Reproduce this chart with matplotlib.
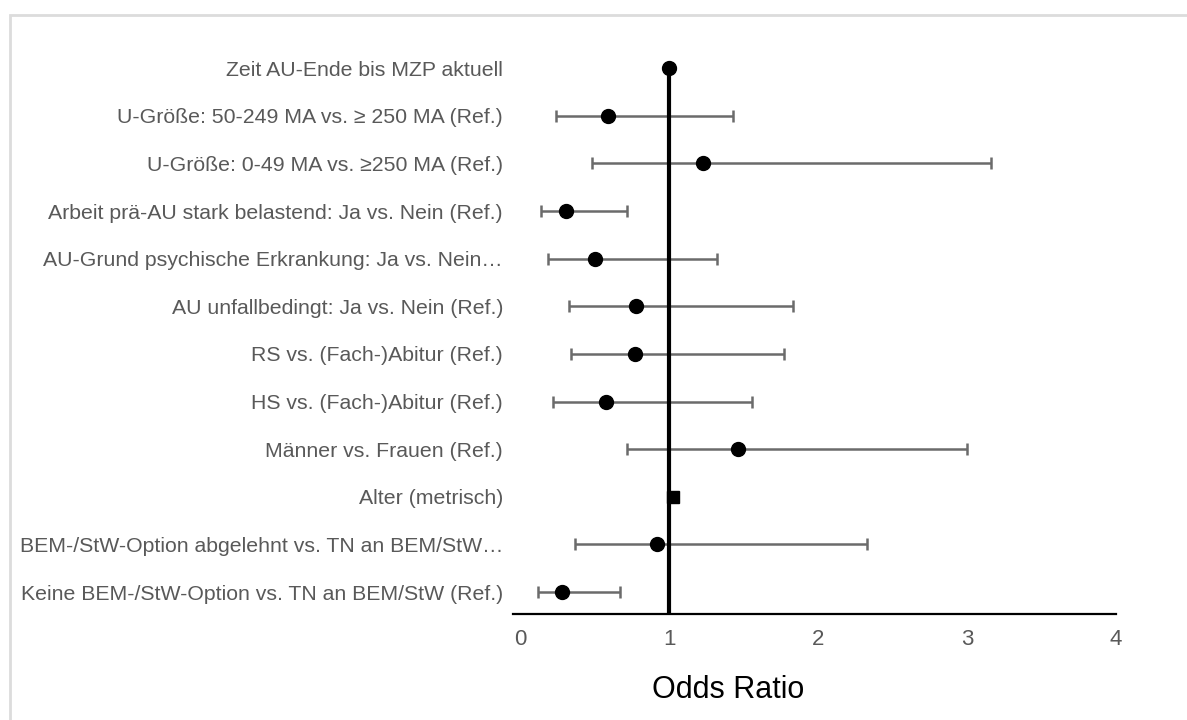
import matplotlib.pyplot as plt
import matplotlib.patches as mpatches
import numpy as np

plt.rcParams['font.family'] = ['Liberation Sans', 'DejaVu Sans']

labels = ['Zeit AU-Ende bis MZP aktuell',
          'U-Größe: 50-249 MA vs. ≥ 250 MA (Ref.)',
          'U-Größe: 0-49 MA vs. ≥250 MA (Ref.)',
          'Arbeit prä-AU stark belastend: Ja vs. Nein (Ref.)',
          'AU-Grund psychische Erkrankung: Ja vs. Nein…',
          'AU unfallbedingt: Ja vs. Nein (Ref.)',
          'RS vs. (Fach-)Abitur (Ref.)',
          'HS vs. (Fach-)Abitur (Ref.)',
          'Männer vs. Frauen (Ref.)',
          'Alter (metrisch)',
          'BEM-/StW-Option abgelehnt vs. TN an BEM/StW…',
          'Keine BEM-/StW-Option vs. TN an BEM/StW (Ref.)']
odds = [1.00, 0.59, 1.225, 0.31, 0.50, 0.78, 0.77, 0.58, 1.46, 1.03, 0.92, 0.28]
ci_low = [1.00, 0.24, 0.48, 0.14, 0.19, 0.33, 0.34, 0.22, 0.72, 1.03, 0.37, 0.12]
ci_high = [1.00, 1.43, 3.16, 0.72, 1.32, 1.83, 1.77, 1.56, 3.00, 1.03, 2.33, 0.67]
square_rows = [9]   # "Alter (metrisch)" drawn as a square

odds = np.array(odds)
lo = odds - np.array(ci_low)
hi = np.array(ci_high) - odds
ypos = np.arange(len(labels))

fig = plt.figure(figsize=(11.87, 7.2), dpi=100)
# light grey frame
fig.patches.append(mpatches.Rectangle((10 / 1187, -0.1), 1.2, 1 - 15 / 720 + 0.1,
                                      transform=fig.transFigure, fill=False,
                                      edgecolor='#dcdcdc', linewidth=2))

ax = fig.add_axes([513 / 1187, 1 - 614 / 720, (1116 - 513) / 1187, (614 - 40) / 720])

has_ci = np.array(ci_high) > np.array(ci_low)
ax.errorbar(odds[has_ci], ypos[has_ci], xerr=[lo[has_ci], hi[has_ci]], fmt='none',
            ecolor='#6b6b6b', elinewidth=1.8, capsize=4.3, capthick=1.8, zorder=2)

ax.vlines(1, 0, 11.46, color='black', linewidth=3, zorder=3)

circ = [i for i in ypos if i not in square_rows]
ax.plot(odds[circ], ypos[circ], 'o', color='black', markersize=10, zorder=4)
ax.plot(odds[square_rows], ypos[square_rows], 's', color='black', markersize=8, zorder=2)

ax.set_xlim(-0.047, 4.0)
ax.set_ylim(11.46, -0.59)
ax.set_xticks([0, 1, 2, 3, 4])
ax.set_yticks(ypos)
ax.set_yticklabels(labels)
ax.tick_params(axis='y', length=0, pad=7.2, labelsize=15.3, labelcolor='#595959')
ax.tick_params(axis='x', length=0, pad=11, labelsize=16, labelcolor='#595959')
for s in ['top', 'right', 'left']:
    ax.spines[s].set_visible(False)
ax.spines['bottom'].set_linewidth(1.6)
ax.spines['bottom'].set_color('black')

fig.text(728 / 1187, 1 - 690 / 720, 'Odds Ratio', ha='center', va='center',
         fontsize=22, color='black')

fig.savefig('out.png', dpi=100)
